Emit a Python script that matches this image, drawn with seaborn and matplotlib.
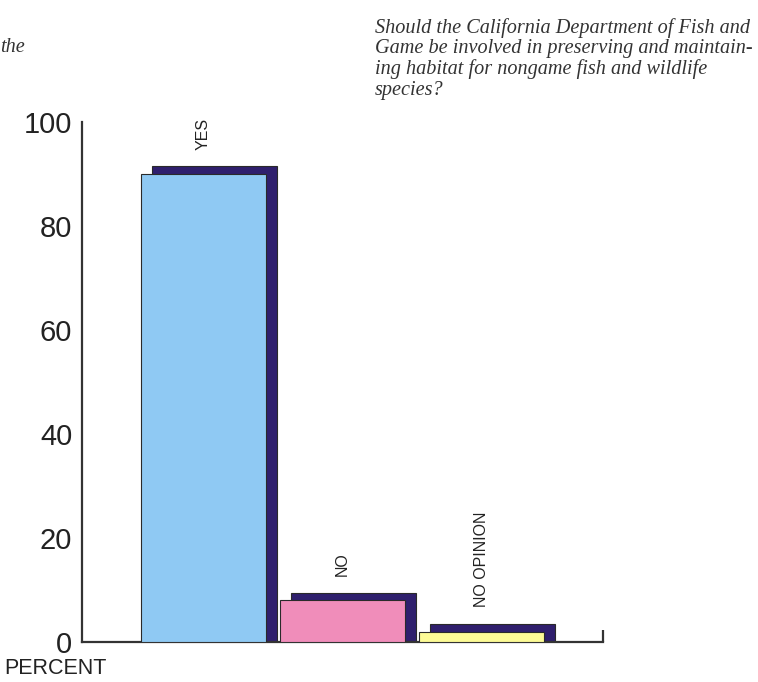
import numpy as np
import matplotlib
matplotlib.use("Agg")
import matplotlib.pyplot as plt
import seaborn as sns

# Survey responses (percent of respondents)
categories = ["YES", "NO", "NO OPINION"]
percent = [90, 8, 2]
yticks = [0, 20, 40, 60, 80, 100]
question_lines = [
    "Should the California Department of Fish and",
    "Game be involved in preserving and maintain-",
    "ing habitat for nongame fish and wildlife",
    "species?",
]

# Styling
fill_colors = ["#8FC9F3", "#F08DBA", "#FDFB96"]
shadow_color = "#2F1F6D"
edge_color = "#2a2a2a"
axis_color = "#333333"
shadow_dx = 0.08      # horizontal shift of the drop shadow (x units)
shadow_lift = 1.5     # how far the shadow rises above its bar (y units)
bar_width = 0.9

sns.set_theme(style="white")
plt.rcParams["font.family"] = ["Liberation Sans", "DejaVu Sans"]

W, H = 758, 682
fig = plt.figure(figsize=(W / 100, H / 100), dpi=100)
ax = fig.add_axes([82 / W, 40 / H, (603 - 82) / W, (642 - 122) / H])

pos = np.arange(len(categories))
vals = np.array(percent, dtype=float)

# Drop shadows behind each bar
sns.barplot(x=pos + shadow_dx, y=vals + shadow_lift, native_scale=True,
            width=bar_width, color=shadow_color, saturation=1,
            edgecolor=edge_color, linewidth=0.8, ax=ax, zorder=2)
# Main bars
sns.barplot(x=pos, y=vals, hue=categories, palette=fill_colors,
            native_scale=True, dodge=False, width=bar_width, saturation=1,
            edgecolor=edge_color, linewidth=0.8, legend=False, ax=ax, zorder=3)

xl, xr = -0.874, 2.878
ax.set_xlim(xl, xr)
ax.set_ylim(0, 100)
ax.set_xticks([])
ax.set_xlabel("")
ax.set_ylabel("")
ax.set_yticks(yticks)
ax.set_yticklabels([str(t) for t in yticks])
ax.tick_params(axis="y", direction="in", length=10, width=1.6, pad=7,
               labelsize=21, colors=axis_color, labelcolor="#222222")
ax.set_facecolor("white")
for s in ("top", "right"):
    ax.spines[s].set_visible(False)
for s in ("left", "bottom"):
    ax.spines[s].set_color(axis_color)
    ax.spines[s].set_linewidth(1.6)
ax.grid(False)

# Small upturned end of the baseline
ax.plot([xr, xr], [0, 2.4], color=axis_color, lw=1.6, clip_on=False,
        solid_capstyle="butt", zorder=5)

# Category labels, rotated, above each shadow
for p, v, c in zip(pos, vals, categories):
    ax.annotate(c, (p, v + shadow_lift), xytext=(0, 12),
                textcoords="offset points", rotation=90, ha="center",
                va="bottom", fontsize=11.5, color="#222222")

fig.text(4 / W, 1 - 669 / H, "PERCENT", ha="left", va="center",
         fontsize=15.5, color="#222222")

# Question text in italic serif
for i, line in enumerate(question_lines):
    fig.text(375 / W, 1 - (33 + 20.5 * i) / H, line, ha="left",
             va="baseline", fontsize=14.6, style="italic",
             family=["Liberation Serif", "DejaVu Serif"], color="#333333")
fig.text(0, 1 - 52 / H, "the", ha="left", va="baseline", fontsize=14.6,
         style="italic", family=["Liberation Serif", "DejaVu Serif"],
         color="#333333")

fig.savefig("out.png", dpi=100, facecolor="white")
